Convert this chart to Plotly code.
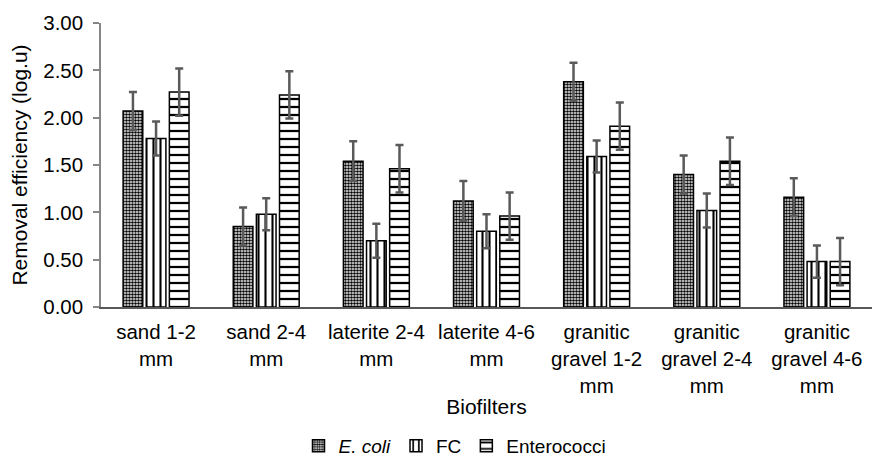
import plotly.graph_objects as go

categories = ["sand 1-2<br>mm", "sand 2-4<br>mm", "laterite 2-4<br>mm", "laterite 4-6<br>mm",
              "granitic<br>gravel 1-2<br>mm", "granitic<br>gravel 2-4<br>mm", "granitic<br>gravel 4-6<br>mm"]
ecoli = [2.07, 0.85, 1.54, 1.12, 2.38, 1.40, 1.16]
ecoli_err = [0.20, 0.20, 0.21, 0.21, 0.20, 0.20, 0.20]
fc = [1.78, 0.98, 0.70, 0.80, 1.59, 1.02, 0.48]
fc_err = [0.18, 0.17, 0.18, 0.18, 0.17, 0.18, 0.17]
entero = [2.27, 2.24, 1.46, 0.96, 1.91, 1.54, 0.48]
entero_err = [0.25, 0.25, 0.25, 0.25, 0.25, 0.25, 0.25]
y_ticks = [0, 0.5, 1.0, 1.5, 2.0, 2.5, 3.0]

FONT = "Liberation Sans, Arial, sans-serif"
err_style = dict(type="data", visible=True, color="#5a5a5a", thickness=2.5, width=4)

def bar(name, vals, errs, shape, size, solidity):
    return go.Bar(
        name=name, x=categories, y=vals,
        error_y=dict(array=errs, **err_style),
        marker=dict(color="white",
                    line=dict(color="black", width=1.5),
                    pattern=dict(shape=shape, size=size, solidity=solidity,
                                 fgcolor="black", bgcolor="white", fillmode="replace")),
    )

fig = go.Figure([
    bar("<i>E. coli</i>", ecoli, ecoli_err, ".", 3, 0.6),
    bar("FC", fc, fc_err, "|", 7, 0.3),
    bar("Enterococci", entero, entero_err, "-", 8, 0.28),
])

fig.update_layout(
    width=875, height=462,
    margin=dict(l=101, r=3, t=23, b=155, autoexpand=False),
    paper_bgcolor="white", plot_bgcolor="white",
    font=dict(family=FONT, size=20.5, color="black"),
    barmode="group", bargap=0.37, bargroupgap=0.15,
    showlegend=True,
    legend=dict(orientation="h", x=0.52, xref="container", xanchor="center",
                y=0.035, yref="container", yanchor="middle",
                font=dict(size=19), itemwidth=30, tracegroupgap=0),
)
fig.update_yaxes(
    range=[0, 3], tickvals=y_ticks, ticktext=[f"{v:.2f}" for v in y_ticks],
    showline=True, linecolor="#868686", linewidth=1.5,
    ticks="outside", ticklen=6, tickcolor="#868686", tickwidth=1.5,
    showgrid=False, zeroline=False, ticklabelstandoff=6,
    title=dict(text="Removal efficiency (log.u)", font=dict(size=21), standoff=10),
)
fig.update_xaxes(
    showline=True, linecolor="#595959", linewidth=1.5, ticks="",
    showgrid=False, tickangle=0, ticklabelstandoff=6,
    title=dict(text="Biofilters", font=dict(size=21), standoff=4),
)

fig.write_html("out.html")
